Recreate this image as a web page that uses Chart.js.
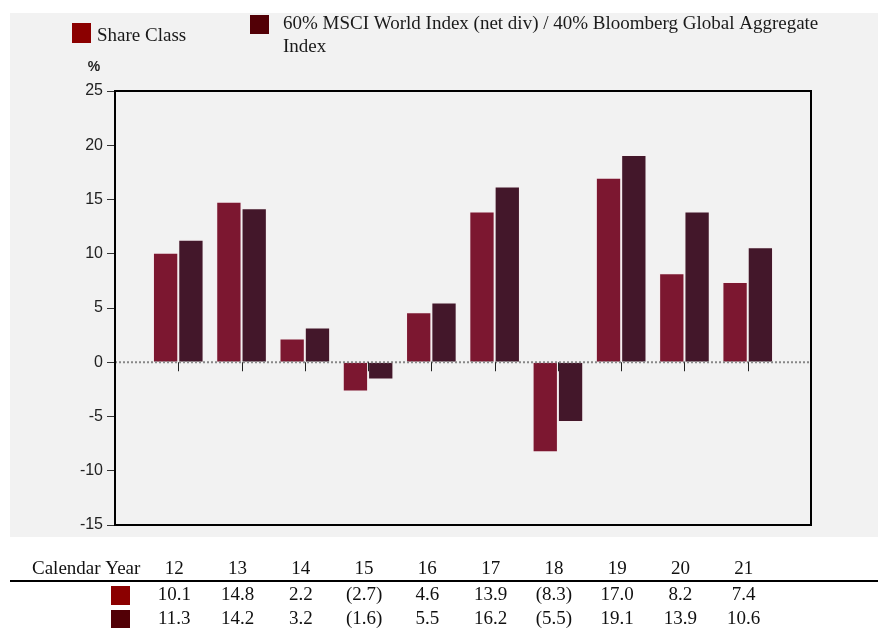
<!DOCTYPE html>
<html><head><meta charset="utf-8">
<script src="https://cdn.jsdelivr.net/npm/chart.js@4.4.0/dist/chart.umd.min.js"></script>
<style>html,body{margin:0;padding:0;background:#fff;}#wrap{width:878px;height:628px;position:relative;}</style>
</head><body><div id="wrap"><canvas id="c" width="878" height="628"></canvas></div>
<script>
const categories = ['12','13','14','15','16','17','18','19','20','21'];
const shareClass = [10.1,14.8,2.2,-2.7,4.6,13.9,-8.3,17.0,8.2,7.4];
const benchmark = [11.3,14.2,3.2,-1.6,5.5,16.2,-5.5,19.1,13.9,10.6];
const seriesNames = ['Share Class','60% MSCI World Index (net div) / 40% Bloomberg Global Aggregate Index'];
const yTicks = [-15,-10,-5,0,5,10,15,20,25];
const barColors = ['#7c1730','#43172a'];
const keyColors = ['#8b0000','#520006'];

const fmt = v => v < 0 ? '(' + Math.abs(v).toFixed(1) + ')' : v.toFixed(1);

const decor = {
  id: 'decor',
  beforeDraw(chart) {
    const ctx = chart.ctx;
    ctx.save();
    ctx.fillStyle = '#f2f2f2';
    ctx.fillRect(10, 13, 868, 524);
    ctx.restore();
  },
  afterDatasetsDraw(chart) {
    const ctx = chart.ctx, a = chart.chartArea;
    const y = chart.scales.y, x = chart.scales.x;
    const y0 = y.getPixelForValue(0);
    ctx.save();
    ctx.strokeStyle = '#888';
    ctx.lineWidth = 2;
    ctx.setLineDash([2, 2]);
    ctx.beginPath(); ctx.moveTo(a.left, y0); ctx.lineTo(a.right, y0); ctx.stroke();
    ctx.setLineDash([]);
    ctx.strokeStyle = '#222';
    ctx.lineWidth = 1;
    categories.forEach((c, i) => {
      const px = Math.round(x.getPixelForValue(i + 1)) + 0.5;
      ctx.beginPath(); ctx.moveTo(px, y0); ctx.lineTo(px, y0 + 9); ctx.stroke();
    });
    ctx.strokeStyle = '#000';
    ctx.lineWidth = 2;
    ctx.strokeRect(a.left, a.top, a.right - a.left, a.bottom - a.top);
    ctx.restore();
  },
  afterDraw(chart) {
    const ctx = chart.ctx;
    const x = chart.scales.x;
    ctx.save();
    // legend
    ctx.font = '19px "Liberation Serif"';
    ctx.textBaseline = 'alphabetic';
    ctx.textAlign = 'left';
    ctx.fillStyle = keyColors[0]; ctx.fillRect(72, 23, 19, 20);
    ctx.fillStyle = keyColors[1]; ctx.fillRect(250, 15, 19, 19);
    ctx.fillStyle = '#1a1a1a';
    ctx.fillText(seriesNames[0], 97, 41);
    const words = seriesNames[1].split(' ');
    ctx.fillText(words.slice(0, -1).join(' '), 283, 29);
    ctx.fillText(words[words.length - 1], 283, 52);
    // % label
    ctx.font = 'bold 14px "Liberation Sans"';
    ctx.fillStyle = '#222';
    ctx.textAlign = 'center';
    ctx.fillText('%', 94, 71);
    // table
    ctx.font = '19px "Liberation Serif"';
    ctx.fillStyle = '#111';
    ctx.textBaseline = 'middle';
    ctx.textAlign = 'left';
    ctx.fillText('Calendar Year', 32, 569);
    ctx.textAlign = 'center';
    categories.forEach((c, i) => {
      const px = x.getPixelForValue(i + 1) - 4;
      ctx.fillText(c, px, 569);
      ctx.fillText(fmt(shareClass[i]), px, 595);
      ctx.fillText(fmt(benchmark[i]), px, 619);
    });
    ctx.strokeStyle = '#000';
    ctx.lineWidth = 2;
    ctx.beginPath(); ctx.moveTo(10, 581); ctx.lineTo(878, 581); ctx.stroke();
    ctx.fillStyle = keyColors[0]; ctx.fillRect(111, 586, 19, 19);
    ctx.fillStyle = keyColors[1]; ctx.fillRect(111, 610, 19, 18);
    ctx.restore();
  }
};

new Chart(document.getElementById('c'), {
  type: 'bar',
  data: {
    labels: ['', ...categories, ''],
    datasets: [
      { label: seriesNames[0], data: [null, ...shareClass, null], backgroundColor: barColors[0], borderColor: 'rgba(255,230,235,0.35)', borderWidth: 1 },
      { label: seriesNames[1], data: [null, ...benchmark, null], backgroundColor: barColors[1], borderColor: 'rgba(255,230,235,0.25)', borderWidth: 1 }
    ]
  },
  options: {
    responsive: false,
    animation: false,
    devicePixelRatio: 1,
    layout: { padding: { left: 0, top: 91, right: 67, bottom: 103 } },
    datasets: { bar: { categoryPercentage: 0.8, barPercentage: 1.0 } },
    plugins: { legend: { display: false }, tooltip: { enabled: false } },
    scales: {
      x: { type: 'category', offset: false, display: false },
      y: {
        min: -15, max: 25,
        afterFit(s) { s.width = 115; },
        afterBuildTicks(s) { s.ticks = yTicks.map(v => ({ value: v })); },
        ticks: { font: { family: 'Liberation Sans', size: 16 }, color: '#222', padding: 4 },
        grid: { drawOnChartArea: false, tickLength: 8, tickColor: '#333', tickWidth: 1 },
        border: { color: '#000', width: 2 }
      }
    }
  },
  plugins: [decor]
});
</script>
</body></html>
